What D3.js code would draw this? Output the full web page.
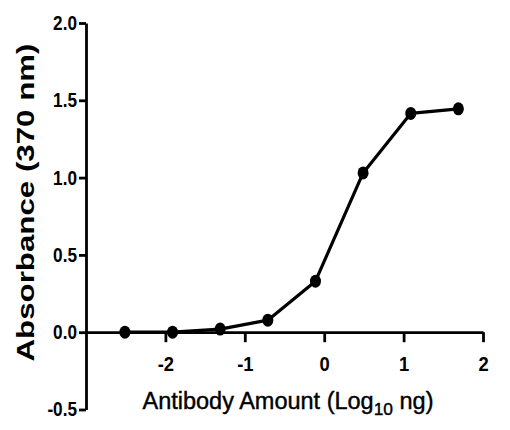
<!DOCTYPE html>
<html>
<head>
<meta charset="utf-8">
<script src="https://cdn.jsdelivr.net/npm/d3@7"></script>
<style>
  body { margin: 0; background: #fff; }
  text { font-family: 'Liberation Sans', Arial, sans-serif; fill: #000; }
</style>
</head>
<body>
<svg width="510" height="430"></svg>
<script>
// log10 ng of antibody (4-fold dilutions) and absorbance at 370 nm
var logAmount = [-2.51, -1.91, -1.31, -0.71, -0.11, 0.49, 1.09, 1.69],
    absorbance = [0.0, 0.0, 0.02, 0.078, 0.33, 1.03, 1.415, 1.445];

var xTicks = [-2, -1, 0, 1, 2],
    xTickLabels = ['-2', '-1', '0', '1', '2'],
    yTicks = [-0.5, 0, 0.5, 1, 1.5, 2],
    yTickLabels = ['-0.5', '0.0', '0.5', '1.0', '1.5', '2.0'];

var svg = d3.select('svg'),
    x = d3.scaleLinear().domain([-3, 2]).range([86, 483]),
    y = d3.scaleLinear().domain([-0.5, 2]).range([409.5, 23]),
    squeeze = 0.86;

var points = logAmount.map(function(d, i) { return [d, absorbance[i]]; });

var valueline = d3.line()
                  .x(function(d) { return x(d[0]); })
                  .y(function(d) { return y(d[1]); });

// y axis, ticks pointing out to the left
var yAxis = svg.append('g')
               .attr('transform', 'translate(' + x(-3) + ',0)')
               .call(d3.axisLeft(y)
                       .tickValues(yTicks)
                       .tickSize(7)
                       .tickSizeOuter(0)
                       .tickPadding(2)
                       .tickFormat(function(d, i) { return yTickLabels[i]; }));

yAxis.select('.domain').attr('stroke-width', 2.8);
yAxis.selectAll('.tick line').attr('stroke-width', 2.8);
// tick labels look condensed in the original, squeeze them sideways
yAxis.selectAll('.tick text')
     .attr('font-size', 20)
     .attr('font-weight', 'bold')
     .attr('font-family', "'Liberation Sans', Arial, sans-serif")
     .attr('x', -9 / squeeze)
     .attr('transform', 'scale(' + squeeze + ',1)');

// x axis drawn through y = 0
var xAxis = svg.append('g')
               .attr('transform', 'translate(0,' + y(0) + ')')
               .call(d3.axisBottom(x)
                       .tickValues(xTicks)
                       .tickSize(10)
                       .tickSizeOuter(0)
                       .tickPadding(15)
                       .tickFormat(function(d, i) { return xTickLabels[i]; }));

xAxis.select('.domain').attr('stroke-width', 2.8);
xAxis.selectAll('.tick line').attr('stroke-width', 2.8);
xAxis.selectAll('.tick text')
     .attr('font-size', 20)
     .attr('font-weight', 'bold')
     .attr('font-family', "'Liberation Sans', Arial, sans-serif")
     .attr('transform', 'scale(0.92,1)');

// the curve
svg.append('path')
   .datum(points)
   .attr('d', valueline)
   .attr('fill', 'none')
   .attr('stroke', '#000')
   .attr('stroke-width', 3.2)
   .attr('stroke-linejoin', 'round');

svg.append('g')
   .selectAll('ellipse')
   .data(points)
   .enter().append('ellipse')
     .attr('cx', function(d) { return x(d[0]); })
     .attr('cy', function(d) { return y(d[1]); })
     .attr('rx', 5.5)
     .attr('ry', 6.5)
     .attr('fill', '#000');

// axis titles
var xTitle = svg.append('text')
                .attr('x', 288)
                .attr('y', 409)
                .attr('text-anchor', 'middle')
                .attr('font-size', 23)
                .attr('stroke', '#000')
                .attr('stroke-width', 0.4)
                .attr('textLength', 291)
                .attr('lengthAdjust', 'spacingAndGlyphs');
xTitle.append('tspan').text('Antibody Amount (Log');
xTitle.append('tspan').attr('font-size', 17).attr('dy', 6).text('10');
xTitle.append('tspan').attr('dy', -6).text(' ng)');

svg.append('text')
   .attr('transform', 'translate(34,' + 202.5 + ') rotate(-90)')
   .attr('text-anchor', 'middle')
   .attr('font-size', 24)
   .attr('font-weight', 'bold')
   .attr('textLength', 318)
   .attr('lengthAdjust', 'spacingAndGlyphs')
   .text('Absorbance (370 nm)');
</script>
</body>
</html>
